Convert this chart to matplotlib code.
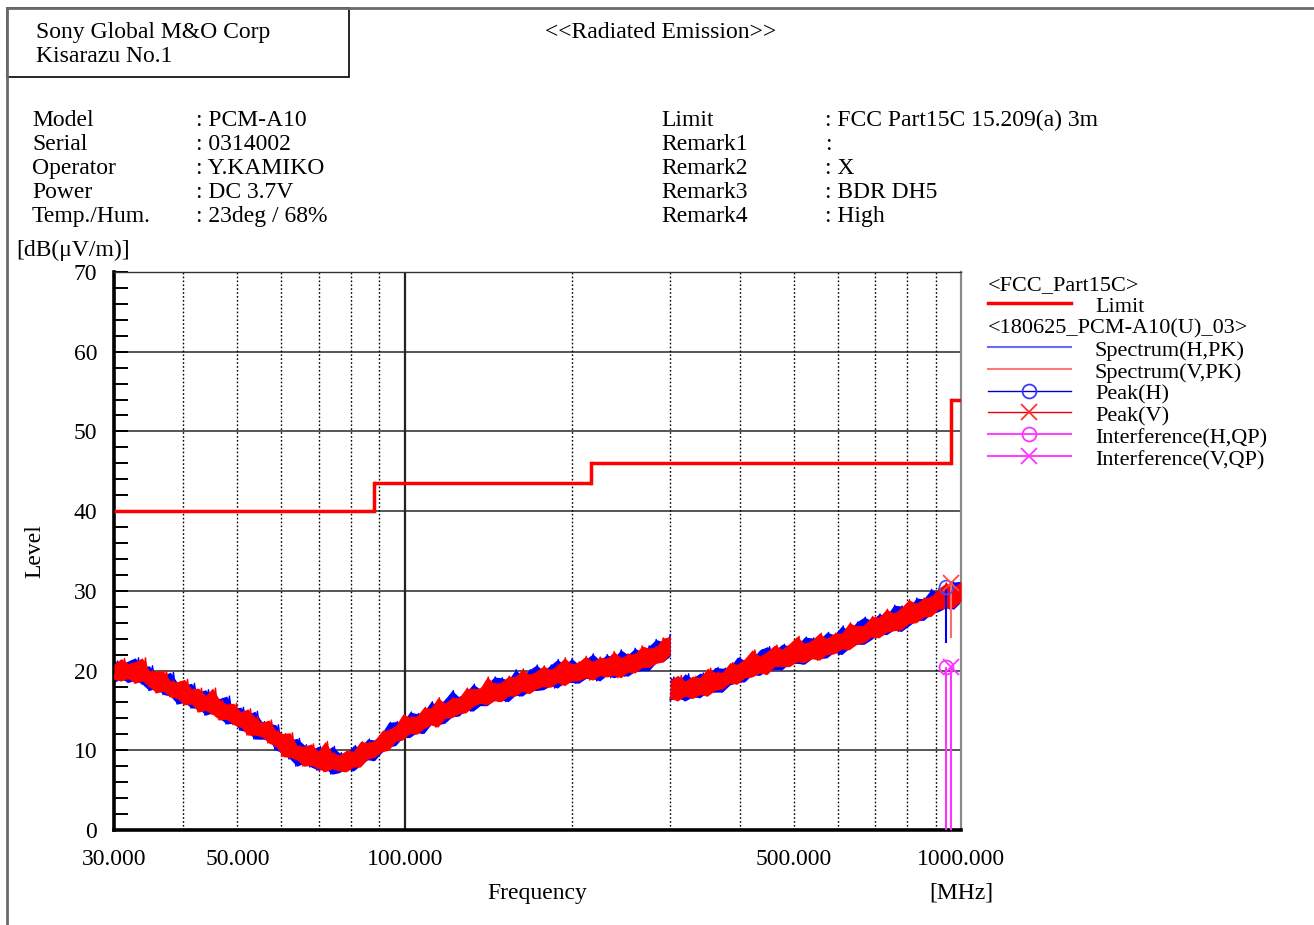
import numpy as np
import matplotlib
matplotlib.use("Agg")
import matplotlib.pyplot as plt
from matplotlib.lines import Line2D
from matplotlib.patches import Rectangle

plt.rcParams['font.family'] = ['Liberation Serif', 'DejaVu Serif']
FS = 17

# ---------------- data ----------------
# FCC Part 15C 15.209(a) 3 m limit: (start MHz, stop MHz, level dBuV/m)
limit_start = [30.0, 88.0, 216.0, 960.0]
limit_stop = [88.0, 216.0, 960.0, 1000.0]
limit_level = [40.0, 43.5, 46.0, 54.0]

# Sweep 1: 30 - 300 MHz, peak detector, min and max level of each display bin
n_low_bins = 80
v_low_hi = [20.8, 21.5, 20.9, 21.1, 21.6, 20.0, 19.9, 20.0, 18.7, 18.6,
            18.9, 17.7, 17.8, 16.9, 17.8, 16.3, 15.8, 15.9, 14.8, 15.2,
            14.2, 13.5, 13.8, 12.5, 12.1, 12.2, 10.6, 10.5, 10.8, 9.9,
            11.1, 9.7, 9.4, 10.0, 9.9, 11.1, 11.0, 11.2, 12.4, 12.6,
            13.1, 14.5, 14.2, 14.3, 15.4, 15.3, 16.6, 15.9, 16.6, 16.6,
            17.8, 17.7, 17.8, 19.2, 18.4, 18.5, 19.3, 19.2, 20.2, 19.5,
            19.9, 20.6, 20.1, 20.7, 21.6, 20.8, 21.1, 21.8, 21.1, 21.7,
            21.5, 22.4, 21.6, 22.1, 22.1, 23.1, 22.8, 23.0, 24.1, 24.2]
v_low_lo = [18.9, 18.7, 19.0, 18.4, 18.7, 18.0, 17.2, 17.4, 16.7, 16.5,
            15.7, 15.8, 14.8, 15.0, 14.5, 13.8, 13.9, 13.2, 12.9, 11.9,
            11.9, 11.7, 10.9, 10.5, 9.2, 9.1, 8.8, 8.0, 8.1, 7.7,
            7.3, 7.7, 7.4, 7.3, 7.9, 7.9, 8.9, 9.1, 9.8, 10.0,
            11.1, 11.3, 12.1, 12.0, 12.7, 13.2, 12.9, 14.0, 14.1, 14.6,
            14.7, 15.5, 15.9, 15.7, 16.2, 16.1, 16.8, 16.8, 17.4, 17.1,
            17.7, 18.0, 17.9, 18.5, 18.1, 18.7, 18.7, 19.1, 18.8, 19.4,
            19.2, 19.4, 19.1, 19.8, 19.7, 20.4, 20.4, 20.9, 21.1, 22.0]
h_low_hi = [21.2, 20.8, 21.2, 21.6, 20.5, 20.6, 19.6, 19.4, 19.8, 18.5,
            18.2, 18.4, 17.3, 17.6, 16.6, 16.5, 16.8, 15.3, 15.4, 14.5,
            14.9, 13.6, 13.4, 13.2, 11.7, 11.3, 11.5, 10.7, 10.0, 10.5,
            9.8, 10.5, 9.7, 9.5, 10.6, 10.4, 11.4, 11.3, 12.1, 13.5,
            13.6, 13.5, 14.8, 14.6, 14.8, 16.1, 15.6, 16.4, 17.5, 16.7,
            17.3, 18.3, 17.7, 18.3, 19.2, 19.1, 18.8, 20.1, 19.4, 20.1,
            20.7, 20.0, 20.7, 21.4, 20.7, 21.5, 20.8, 21.4, 22.1, 21.3,
            22.0, 21.6, 22.6, 22.0, 22.8, 22.3, 23.1, 23.9, 23.6, 24.5]
h_low_lo = [18.5, 19.0, 18.5, 18.8, 18.3, 17.5, 17.8, 17.0, 16.8, 15.8,
            16.0, 15.3, 15.3, 14.4, 14.7, 14.0, 13.3, 13.4, 12.5, 12.3,
            11.4, 11.4, 11.3, 10.0, 9.7, 8.9, 8.0, 8.4, 7.9, 7.5,
            7.7, 7.0, 7.2, 7.7, 7.4, 8.1, 8.8, 8.7, 9.7, 10.4,
            10.6, 11.6, 11.6, 12.2, 12.1, 13.2, 13.2, 13.4, 14.2, 14.3,
            15.1, 14.9, 15.6, 15.6, 16.3, 16.3, 16.1, 16.9, 16.8, 17.5,
            17.5, 17.6, 18.1, 17.8, 18.6, 18.5, 18.4, 19.0, 19.0, 18.7,
            19.4, 19.1, 19.4, 19.3, 19.9, 20.0, 20.0, 21.0, 21.1, 21.8]

# Sweep 2: 300 - 1000 MHz
n_high_bins = 40
v_high_hi = [18.8, 19.4, 18.7, 19.3, 19.1, 20.3, 19.8, 19.8, 21.0, 20.8,
             21.5, 22.6, 21.8, 22.4, 23.2, 22.7, 23.4, 24.3, 23.4, 23.8,
             24.7, 24.0, 24.7, 24.7, 26.0, 25.6, 25.7, 26.8, 26.7, 27.7,
             27.2, 27.9, 28.9, 28.4, 29.1, 29.3, 30.3, 31.0, 30.5, 31.1]
v_high_lo = [16.5, 16.2, 16.8, 16.5, 17.0, 16.8, 17.5, 17.7, 18.4, 18.3,
             19.1, 19.2, 19.7, 19.5, 20.5, 20.5, 20.5, 21.1, 21.0, 21.5,
             21.3, 22.0, 22.1, 22.7, 22.6, 23.3, 23.5, 24.2, 24.1, 24.8,
             25.0, 25.1, 25.9, 26.0, 26.7, 26.8, 27.7, 27.8, 27.9, 28.7]
h_high_hi = [19.2, 18.6, 19.6, 19.0, 19.7, 19.3, 20.4, 20.3, 20.4, 21.7,
             21.3, 21.5, 22.6, 23.0, 22.5, 23.3, 23.1, 23.1, 24.2, 24.1,
             23.9, 24.8, 24.5, 25.6, 25.0, 26.1, 26.7, 26.3, 27.1, 26.9,
             28.2, 28.1, 27.9, 29.1, 29.0, 30.2, 29.7, 30.2, 31.1, 31.2]
h_high_lo = [16.3, 16.6, 16.2, 16.7, 16.6, 17.3, 17.3, 17.3, 18.2, 18.5,
             18.6, 19.5, 19.4, 20.0, 20.1, 20.1, 20.9, 20.9, 20.8, 21.5,
             21.5, 21.6, 22.3, 22.0, 22.8, 23.3, 23.3, 23.9, 24.6, 24.5,
             25.1, 24.9, 25.6, 26.3, 26.3, 27.1, 27.4, 27.9, 27.7, 28.6]

# Peak / quasi-peak results
peak_h_freq, peak_h_level, peak_h_base = [941.0], [30.5], [23.5]
peak_v_freq, peak_v_level, peak_v_base = [959.0], [31.0], [24.1]
qp_h_freq, qp_h_level = [941.0], [20.5]
qp_v_freq, qp_v_level = [959.0], [20.5]

x_ticks = [30, 50, 100, 500, 1000]
x_ticklabels = ["30.000", "50.000", "100.000", "500.000", "1000.000"]
grid_dotted = [40, 50, 60, 70, 80, 90, 200, 300, 400, 500, 600, 700, 800, 900]
grid_solid = [100]

info_left = [("Model", ": PCM-A10"), ("Serial", ": 0314002"),
             ("Operator", ": Y.KAMIKO"), ("Power", ": DC 3.7V"),
             ("Temp./Hum.", ": 23deg / 68%")]
info_right = [("Limit", ": FCC Part15C 15.209(a) 3m"), ("Remark1", ":"),
              ("Remark2", ": X"), ("Remark3", ": BDR DH5"),
              ("Remark4", ": High")]

# ---------------- figure ----------------
W, H = 1314, 925
fig = plt.figure(figsize=(W / 100, H / 100), dpi=100)


def fx(px):
    return px / W


def fy(py):
    return 1 - py / H


ax = fig.add_axes([fx(114), fy(830), fx(961) - fx(114), fy(272) - fy(830)])
ax.set_xscale('log')
ax.set_xlim(30, 1000)
ax.set_ylim(0, 70)

for y in range(10, 70, 10):
    ax.axhline(y, color='#3a3a3a', lw=1.2, zorder=1)
for g in grid_dotted:
    ax.axvline(g, color='black', lw=1.0, ls=(0, (1.2, 1.6)), zorder=1)
for g in grid_solid:
    ax.axvline(g, color='#222222', lw=1.6, zorder=1)

# limit line
for s, e, lv in zip(limit_start, limit_stop, limit_level):
    ax.plot([s, e], [lv, lv], color='#ff0000', lw=2.5, zorder=4,
            solid_capstyle='butt')
for i in range(len(limit_start) - 1):
    ax.plot([limit_stop[i], limit_stop[i]], [limit_level[i], limit_level[i + 1]],
            color='#ff0000', lw=2.5, zorder=4)


def trace(f_start, f_stop, n_bins, lo, hi, color, z):
    lo = np.asarray(lo)
    hi = np.asarray(hi)
    # body of the trace: span between bin minimum and maximum
    f_bins = np.geomspace(f_start, f_stop, n_bins)
    ax.fill_between(f_bins, lo, hi, color=color, lw=0, zorder=z)
    # texture: each display bin contributes its minimum and then its maximum
    freq = np.geomspace(f_start, f_stop, 2 * n_bins)
    level = np.column_stack([lo, hi]).ravel()
    ax.plot(freq, level, color=color, lw=1.0, zorder=z)


trace(30.0, 300.0, n_low_bins, h_low_lo, h_low_hi, '#0000ff', 2)
trace(300.0, 1000.0, n_high_bins, h_high_lo, h_high_hi, '#0000ff', 2)
trace(30.0, 300.0, n_low_bins, v_low_lo, v_low_hi, '#ff0000', 3)
trace(300.0, 1000.0, n_high_bins, v_high_lo, v_high_hi, '#ff0000', 3)

# peak and QP markers with drop lines
ax.vlines(qp_h_freq, 0, qp_h_level, color='#ff33ff', lw=1.5, zorder=5)
ax.vlines(qp_v_freq, 0, qp_v_level, color='#ff33ff', lw=1.5, zorder=5)
ax.plot(qp_h_freq, qp_h_level, 'o', mfc='none', mec='#ff33ff', ms=10, mew=1.3, zorder=6)
ax.plot(qp_v_freq, qp_v_level, 'x', color='#ff33ff', ms=11, mew=1.3, zorder=6)
ax.vlines(peak_h_freq, peak_h_base, peak_h_level, color='#0000ff', lw=1.5, zorder=5)
ax.vlines(peak_v_freq, peak_v_base, peak_v_level, color='#ff6a6a', lw=1.5, zorder=5)
ax.plot(peak_h_freq, peak_h_level, 'o', mfc='none', mec='#4a4aff', ms=10, mew=1.3, zorder=6)
ax.plot(peak_v_freq, peak_v_level, 'x', color='#ff4a4a', ms=11, mew=1.3, zorder=6)

# axes styling
ax.set_xticks(x_ticks)
ax.set_xticklabels(x_ticklabels, fontsize=FS)
ax.xaxis.set_minor_locator(matplotlib.ticker.NullLocator())
ax.tick_params(axis='x', length=0, pad=14)
ax.set_yticks(range(0, 71, 10))
ax.set_yticks(range(0, 71, 2), minor=True)
ax.tick_params(axis='y', which='both', direction='in', length=10, width=1.4,
               labelsize=FS, pad=12, color='black')
ax.spines['left'].set_linewidth(2.6)
ax.spines['bottom'].set_linewidth(2.6)
ax.spines['top'].set_linewidth(1.0)
ax.spines['top'].set_color('#333333')
ax.spines['right'].set_linewidth(1.6)
ax.spines['right'].set_color('#8a8a8a')

# ---------------- page frame and header ----------------
fig.add_artist(Line2D([fx(7), fx(7)], [fy(8), fy(925)], color='#6a6a6a', lw=2.0))
fig.add_artist(Line2D([fx(7), fx(1314)], [fy(8), fy(8)], color='#6a6a6a', lw=2.0))
fig.add_artist(Rectangle((fx(7), fy(77)), fx(349) - fx(7), fy(8) - fy(77),
                         fill=False, ec='black', lw=1.2))

fig.text(fx(36), fy(38), "Sony Global M&O Corp", fontsize=FS, va='baseline')
fig.text(fx(36), fy(62), "Kisarazu No.1", fontsize=FS, va='baseline')
fig.text(fx(661), fy(38), "<<Radiated Emission>>", fontsize=FS, va='baseline', ha='center')

for k, (lab, val) in enumerate(info_left):
    yb = 126 + 24 * k
    fig.text(fx(32), fy(yb), lab, fontsize=FS, va='baseline')
    fig.text(fx(196), fy(yb), val, fontsize=FS, va='baseline')
for k, (lab, val) in enumerate(info_right):
    yb = 126 + 24 * k
    fig.text(fx(661), fy(yb), lab, fontsize=FS, va='baseline')
    fig.text(fx(825), fy(yb), val, fontsize=FS, va='baseline')

fig.text(fx(16), fy(256), "[dB(μV/m)]", fontsize=FS, va='baseline')
fig.text(fx(35), fy(551), "Level", fontsize=FS, va='center', ha='center', rotation=90)
fig.text(fx(537), fy(899), "Frequency", fontsize=FS, va='baseline', ha='center')
fig.text(fx(961), fy(899), "[MHz]", fontsize=FS, va='baseline', ha='center')

# ---------------- legend ----------------
legend_rows = [
    ("<FCC_Part15C>", None),
    ("Limit", dict(color='#ff0000', lw=2.5)),
    ("<180625_PCM-A10(U)_03>", None),
    ("Spectrum(H,PK)", dict(color='#6a6aff', lw=1.5)),
    ("Spectrum(V,PK)", dict(color='#ff7a7a', lw=1.5)),
    ("Peak(H)", dict(color='#0000cc', lw=1.0, marker='o', mfc='none', mec='#3a3aff', ms=10)),
    ("Peak(V)", dict(color='#ee0000', lw=1.0, marker='x', mec='#ff3030', ms=11)),
    ("Interference(H,QP)", dict(color='#ff44ff', lw=1.5, marker='o', mfc='none', mec='#ff33ff', ms=10)),
    ("Interference(V,QP)", dict(color='#ff44ff', lw=1.5, marker='x', mec='#ff33ff', ms=11)),
]
for k, (label, style) in enumerate(legend_rows):
    yb = 290 + 21.9 * k
    if style is None:
        fig.text(fx(988), fy(yb), label, fontsize=16, va='baseline')
    else:
        fig.add_artist(Line2D([fx(988), fx(1071)], [fy(yb - 9), fy(yb - 9)],
                              color=style['color'], lw=style['lw']))
        if 'marker' in style:
            fig.add_artist(Line2D([fx(1029)], [fy(yb - 9)], marker=style['marker'],
                                  mfc=style.get('mfc', 'none'), mec=style['mec'],
                                  ms=style['ms'], mew=1.3, lw=0))
        fig.text(fx(1095), fy(yb), label, fontsize=16, va='baseline')

fig.savefig("out.png", dpi=100)
